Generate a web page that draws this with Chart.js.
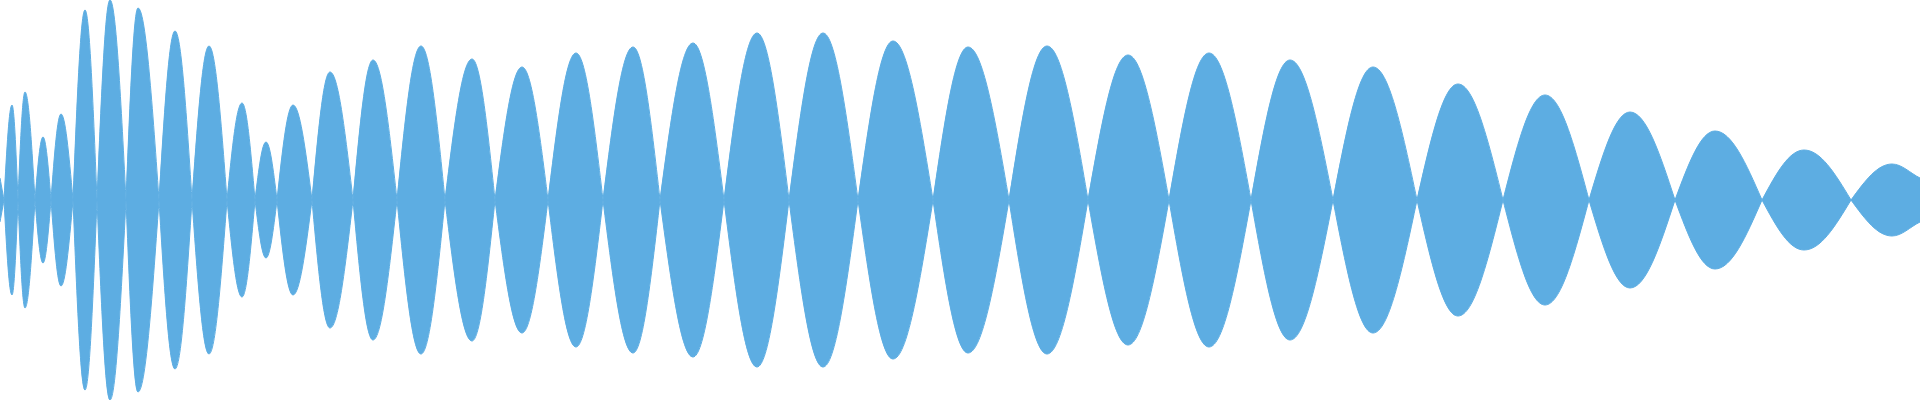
<!DOCTYPE html>
<html>
<head>
<meta charset="utf-8">
<title>Waveform</title>
<script src="https://cdn.jsdelivr.net/npm/chart.js@4.4.1/dist/chart.umd.min.js"></script>
<style>
    html, body {
        margin: 0;
        padding: 0;
        background: #ffffff;
    }
    #wrap {
        position: relative;
        width: 1920px;
        height: 400px;
    }
</style>
</head>
<body>
<div id="wrap"><canvas id="wave"></canvas></div>
<script>
// zero crossings of the signal envelope (sample index)
const crossings = [4, 18, 35, 51, 73, 97, 126, 159, 192, 227, 255, 277, 312, 353, 397, 445, 495, 548, 603, 660, 724, 789, 858, 933, 1009, 1088, 1169, 1251, 1333, 1417, 1503, 1589, 1675, 1762, 1851];
// position and amplitude of each lobe peak
const peakX = [12, 25, 43, 61, 85, 110, 138, 175, 209, 242, 266, 293, 330, 373, 421, 472, 522, 576, 633, 693, 757, 823, 893, 968, 1047, 1128, 1209, 1290, 1373, 1458, 1545, 1630, 1715, 1804, 1892];
const peakAmp = [95, 108, 63, 86, 190, 200, 192, 169, 154, 97, 58, 95, 128, 140, 154, 141, 133, 147, 153, 157, 167, 167, 159, 153, 154, 145, 147, 140, 133, 116, 105, 88, 69, 50, 36];
// amplitude at the first and last sample
const edgeX = [0, 1920];
const edgeAmp = [22, 22];

const waveColor = "rgb(93, 173, 226)";

function envelope(sign) {
    const pts = [{ x: edgeX[0], y: sign * edgeAmp[0], kind: "edge" }];
    for (let i = 0; i < crossings.length; i++) {
        // crossing twice so the lobes meet in a point
        pts.push({ x: crossings[i], y: 0, kind: "zero" });
        pts.push({ x: crossings[i], y: 0, kind: "zero" });
        pts.push({ x: peakX[i], y: sign * peakAmp[i], kind: "peak" });
    }
    pts.push({ x: edgeX[1], y: sign * edgeAmp[1], kind: "edge" });
    return pts;
}

function lobeDataset(sign) {
    return {
        data: envelope(sign),
        borderColor: waveColor,
        backgroundColor: waveColor,
        borderWidth: 1,
        pointRadius: 0,
        tension: 0.4,
        fill: "origin"
    };
}

// bend each half lobe like a quarter sine: flat at the peak, steep at the crossing
const K = 0.35;
const SLOPE = K * Math.PI / 2;

const sineLobes = {
    id: "sineLobes",
    beforeDatasetsDraw(chart) {
        chart.getSortedVisibleDatasetMetas().forEach(function (meta) {
            const raw = chart.data.datasets[meta.index].data;
            const pts = meta.data;
            for (let i = 0; i < pts.length - 1; i++) {
                const a = pts[i];
                const b = pts[i + 1];
                const ka = raw[i].kind;
                const kb = raw[i + 1].kind;
                const dx = b.x - a.x;
                const dy = b.y - a.y;

                let c1 = { x: a.x, y: a.y };
                let c2 = { x: b.x, y: b.y };
                if (ka === "zero" && kb === "peak") {
                    c1 = { x: a.x + K * dx, y: a.y + SLOPE * dy };
                    c2 = { x: b.x - K * dx, y: b.y };
                } else if (ka === "peak" && kb === "zero") {
                    c1 = { x: a.x + K * dx, y: a.y };
                    c2 = { x: b.x - K * dx, y: b.y - SLOPE * dy };
                } else if (ka === "peak" && kb === "edge") {
                    c1 = { x: a.x + K * dx, y: a.y };
                    c2 = { x: b.x - K * dx, y: b.y - K * dy };
                }
                a.cp2x = c1.x;
                a.cp2y = c1.y;
                b.cp1x = c2.x;
                b.cp1y = c2.y;
            }
        });
    }
};

new Chart(document.getElementById("wave"), {
    type: "line",
    data: {
        datasets: [lobeDataset(1), lobeDataset(-1)]
    },
    options: {
        responsive: true,
        maintainAspectRatio: false,
        animation: false,
        layout: { padding: 0 },
        plugins: {
            legend: { display: false },
            tooltip: { enabled: false }
        },
        scales: {
            x: { type: "linear", min: 0, max: 1920, display: false },
            y: { min: -200, max: 200, display: false }
        }
    },
    plugins: [sineLobes]
});
</script>
</body>
</html>
